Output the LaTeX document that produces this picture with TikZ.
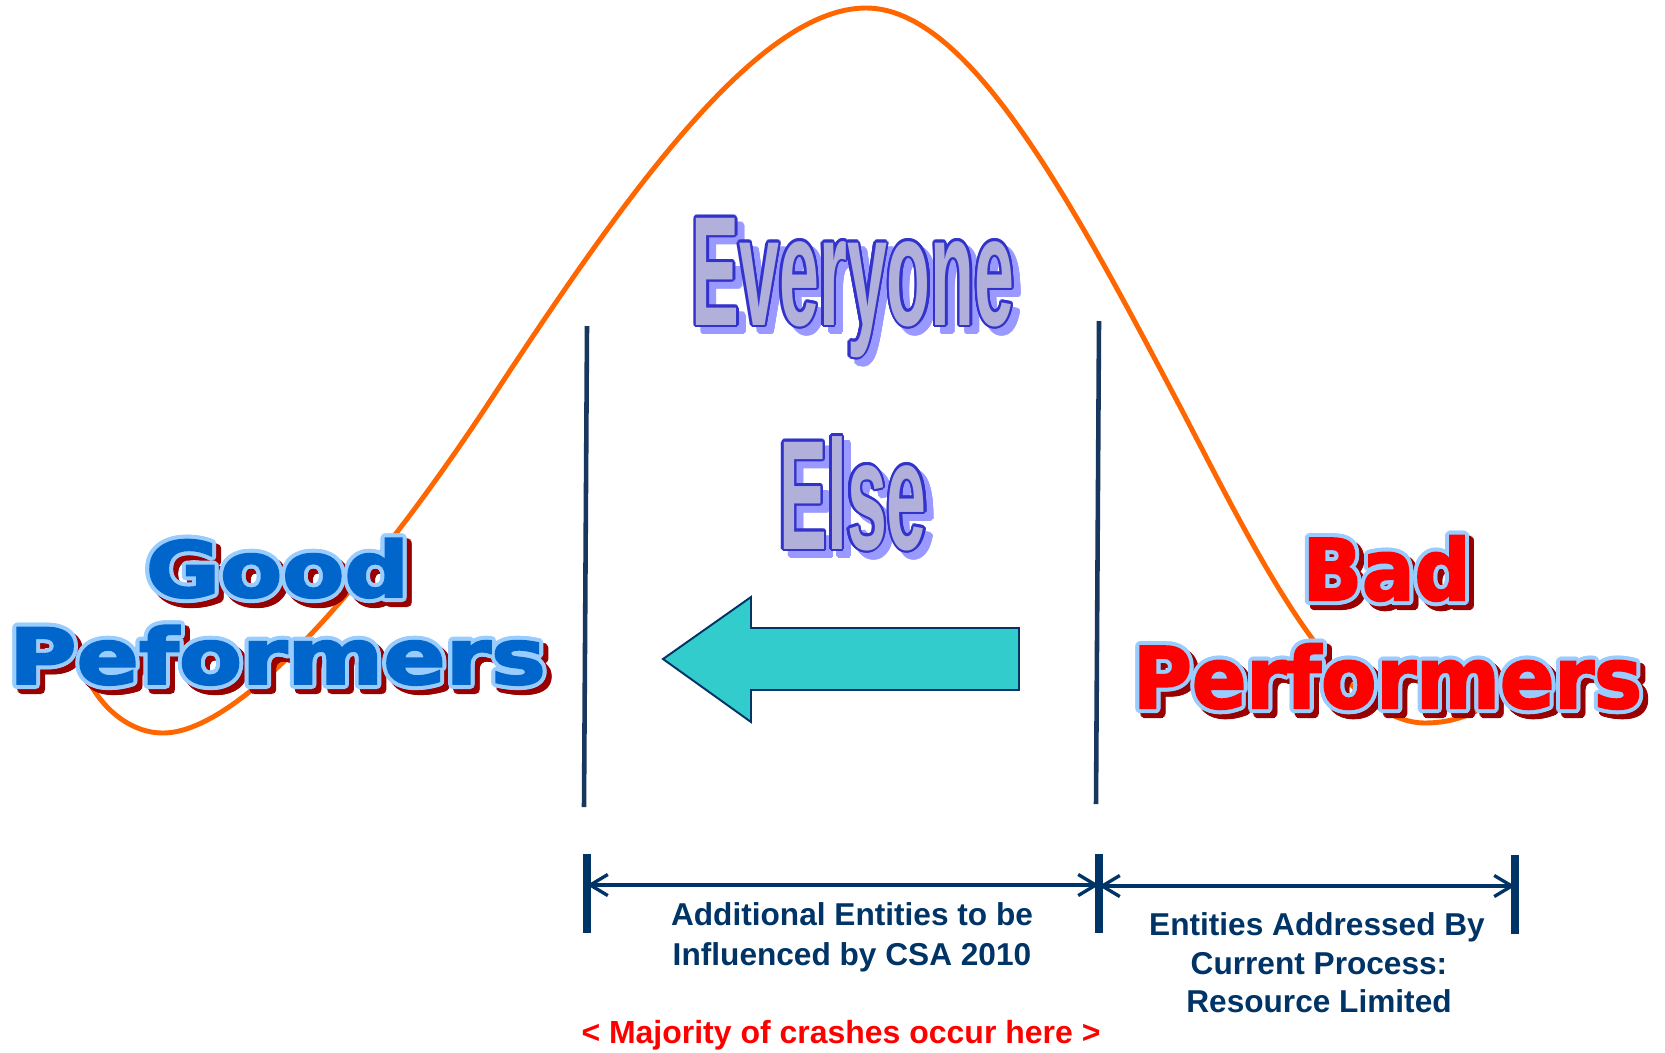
\documentclass[tikz,border=0pt]{standalone}
\usepackage{fontspec}
\usepackage{graphicx}
\usetikzlibrary{calc,arrows.meta}
\newfontfamily\heavyfont{DejaVu Sans}[UprightFont={* Bold},FakeBold=2.5]
\newfontfamily\arialfont{Liberation Sans}
\definecolor{curveorange}{HTML}{FF6600}
\definecolor{navyline}{HTML}{17375E}
\definecolor{navytext}{HTML}{003366}
\definecolor{arrowcyan}{HTML}{33CCCC}
\definecolor{goodblue}{HTML}{0066CC}
\definecolor{lightout}{HTML}{99CCFF}
\definecolor{shadowred}{HTML}{990000}
\definecolor{badred}{HTML}{FF0000}
\definecolor{evout}{HTML}{3333CC}
\definecolor{evfill}{HTML}{B0B0DA}
\definecolor{evshadow}{HTML}{9999FF}
% word art: #1 name, #2 base point, #3 shadow offset, #4 outline radius,
% #5 shadow colour, #6 outline colour, #7 fill colour, #8 text
\newcommand\fancyword[8]{%
  \foreach \i in {0,...,15}{\node[wa,text=#5] (#1-s\i) at ($#2+#3+(\i*22.5:#4)$) {#8};}
  \node[wa,text=#5] (#1-s) at ($#2+#3$) {#8};
  \foreach \i in {0,...,15}{\node[wa,text=#6] (#1-o\i) at ($#2+(\i*22.5:#4)$) {#8};}
  \node[wa,text=#7] (#1) at #2 {#8};
}
\newcommand\txtGood{\scalebox{1.17}[1]{\heavyfont\fontsize{44}{50}\selectfont Good}}
\newcommand\txtPeformers{\scalebox{1.19}[1]{\heavyfont\fontsize{44}{50}\selectfont Peformers}}
\newcommand\txtBad{\scalebox{0.92}[1]{\heavyfont\fontsize{48.2}{50}\selectfont Bad}}
\newcommand\txtPerformers{\scalebox{0.95}[1]{\heavyfont\fontsize{48.2}{50}\selectfont Performers}}
\newcommand\txtEvery{\scalebox{0.46}[1]{\arialfont\bfseries\fontsize{88.7}{90}\selectfont Everyone}}
\newcommand\txtElse{\scalebox{0.46}[1]{\arialfont\bfseries\fontsize{88.7}{90}\selectfont Else}}
\begin{document}
\begin{tikzpicture}[x=0.02cm,y=-0.02cm,
  wa/.style={inner sep=0pt,outer sep=0pt,anchor=base},
  lbl/.style={inner sep=0pt,anchor=base,text=navytext,font=\arialfont\bfseries\fontsize{18}{20}\selectfont},
  redlbl/.style={inner sep=0pt,anchor=base,text=badred,font=\arialfont\bfseries\fontsize{18.2}{20}\selectfont},
  divider/.style={draw=navyline,line width=2.6pt},
  tickmark/.style={draw=navytext,line width=4.2pt},
  dimline/.style={draw=navytext,line width=1.9pt,{Straight Barb[length=10pt,width=12pt]}-{Straight Barb[length=10pt,width=12pt]}},
  bell/.style={draw=curveorange,line width=2.8pt},
  bigarrow/.style={fill=arrowcyan,draw=navytext,line width=1.1pt,line join=miter}]
\useasboundingbox (0,0) rectangle (1665,1052);
% bell curve
\draw[bell] (85,672) .. controls (95,700) and (125,733) .. (163,733)
  .. controls (243,733) and (380,568) .. (490,401)
  .. controls (620,203) and (756,8) .. (866,8)
  .. controls (966,8) and (1066,190) .. (1176,399)
  .. controls (1246,532) and (1335,723) .. (1425,723)
  .. controls (1455,723) and (1480,712) .. (1495,698);
% dividers
\coordinate (d1t) at (587,326); \coordinate (d1b) at (584,807);
\coordinate (d2t) at (1099,321); \coordinate (d2b) at (1096,804);
\draw[divider] (d1t) -- (d1b);
\draw[divider] (d2t) -- (d2b);
% big arrow
\draw[bigarrow] (663,659) -- (751,597) -- (751,628) -- (1019,628) -- (1019,690) -- (751,690) -- (751,722) -- cycle;
% word art
\fancyword{good}{(277.5,597)}{(5,5)}{2.3pt}{shadowred}{lightout}{goodblue}{\txtGood}
\fancyword{pef}{(277.5,684)}{(5,5)}{2.3pt}{shadowred}{lightout}{goodblue}{\txtPeformers}
\fancyword{bad}{(1386.5,600)}{(5,5)}{2.3pt}{shadowred}{lightout}{badred}{\txtBad}
\fancyword{perf}{(1387.5,708)}{(5,5)}{2.3pt}{shadowred}{lightout}{badred}{\txtPerformers}
\fancyword{every}{(853,325)}{(7,7)}{1.4pt}{evshadow}{evout}{evfill}{\txtEvery}
\fancyword{else}{(853,549)}{(7,7)}{1.4pt}{evshadow}{evout}{evfill}{\txtElse}
% dimension ticks
\coordinate (t1a) at (587,854); \coordinate (t1b) at (587,933);
\coordinate (t2a) at (1099,854); \coordinate (t2b) at (1099,933);
\coordinate (t3a) at (1515,855); \coordinate (t3b) at (1515,934);
\draw[tickmark] (t1a) -- (t1b);
\draw[tickmark] (t2a) -- (t2b);
\draw[tickmark] (t3a) -- (t3b);
\coordinate (m1) at (587,885); \coordinate (m2) at (1099,885);
\coordinate (m3) at (1099,886); \coordinate (m4) at (1515,886);
\draw[dimline] (m1) -- (m2);
\draw[dimline] (m3) -- (m4);
% labels
\node[lbl] (add1) at (852,925) {Additional Entities to be};
\node[lbl] (add2) at (852,965) {Influenced by CSA 2010};
\node[lbl] (ent1) at (1317,935) {Entities Addressed By};
\node[lbl] (ent2) at (1319,974) {Current Process:};
\node[lbl] (ent3) at (1319,1012) {Resource Limited};
\node[redlbl] (maj) at (841,1043) {< Majority of crashes occur here >};
\end{tikzpicture}
\end{document}
